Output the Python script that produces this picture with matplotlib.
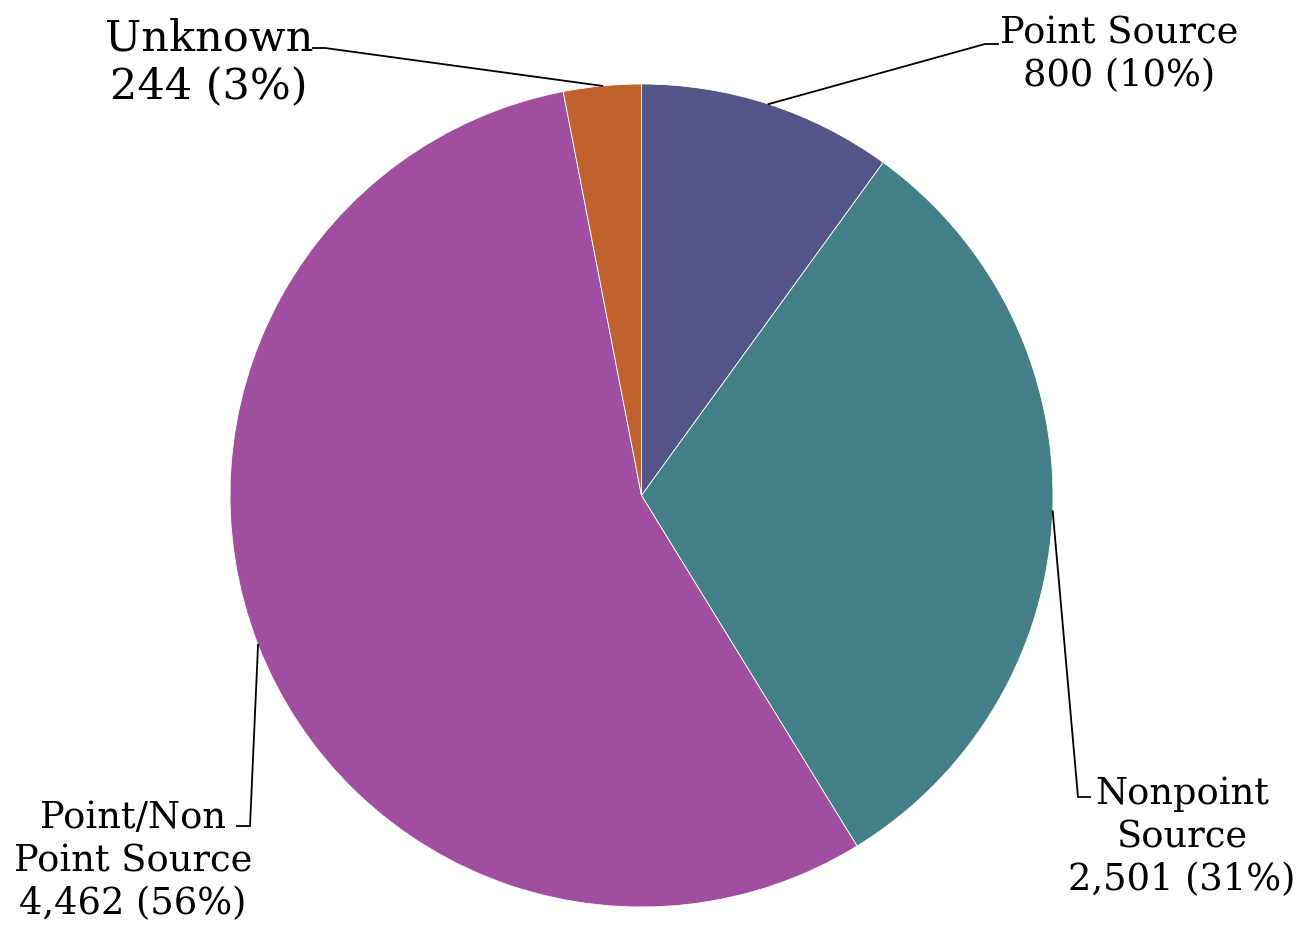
import numpy as np
import matplotlib.pyplot as plt

categories = ["Point Source", "Nonpoint\nSource", "Point/Non\nPoint Source", "Unknown"]
values = [800, 2501, 4462, 244]
colors = ["#535588", "#437f86", "#a04fa0", "#c0622d"]

W, H = 1299, 932
CX, CY, R = 641.5, 495.5, 411.5

# label layout in pixel coords: text block center, elbow point, line end at text
label_pos = [(1119, 55), (1182, 837), (133, 861), (209, 63)]
label_size = [26.5, 26.5, 26.5, 31]
label_spacing = [1.25, 1.25, 1.25, 1.2]
elbows = [(985, 44), (1078, 797), (250, 826), (325, 48)]
ends = [(998, 44), (1090, 797), (237, 826), (313, 48)]


def px(x, y):
    return (x - CX) / R, (CY - y) / R


def main():
    fig = plt.figure(figsize=(W / 100, H / 100), dpi=100)
    ax = fig.add_axes([0, 0, 1, 1])

    ax.pie(values, colors=colors, startangle=90, counterclock=False, radius=1,
           center=(0, 0), frame=True,
           wedgeprops=dict(edgecolor="white", linewidth=0.6))
    ax.set_xlim(-CX / R, (W - CX) / R)
    ax.set_ylim(-(H - CY) / R, CY / R)
    ax.set_aspect("equal")
    ax.axis("off")

    total = sum(values)
    cum = np.cumsum([0] + values)
    for i, (name, v) in enumerate(zip(categories, values)):
        mid = np.deg2rad(90 - (cum[i] + v / 2) / total * 360)
        anchor = (np.cos(mid), np.sin(mid))
        e = px(*elbows[i])
        t = px(*ends[i])
        ax.plot([anchor[0], e[0], t[0]], [anchor[1], e[1], t[1]],
                color="black", linewidth=1.3, solid_joinstyle="miter")
        pct = round(100 * v / total)
        txt = f"{name}\n{v:,} ({pct}%)"
        lx, ly = px(*label_pos[i])
        ax.text(lx, ly, txt, ha="center", va="center", multialignment="center",
                fontsize=label_size[i], family="DejaVu Serif",
                linespacing=label_spacing[i])

    fig.savefig("out.png", dpi=100)


if __name__ == "__main__":
    main()
